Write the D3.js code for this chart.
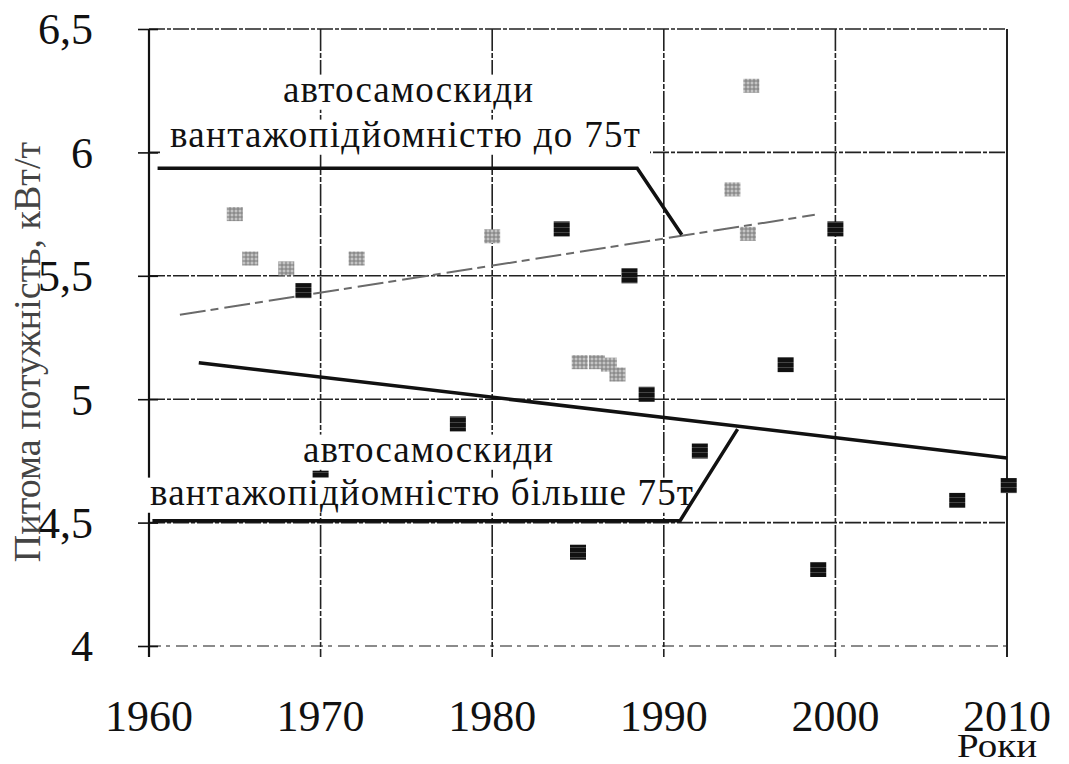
<!DOCTYPE html>
<html>
<head>
<meta charset="utf-8">
<script src="https://cdn.jsdelivr.net/npm/d3@7"></script>
<style>
  body { margin: 0; background: #fff; }
  svg text { font-family: "Liberation Serif", "Times New Roman", serif !important; }
</style>
</head>
<body>
<div id="chart-wrapper"></div>
<script>
// data
const yearTicks = [1960, 1970, 1980, 1990, 2000, 2010];
const powerTicks = [4, 4.5, 5, 5.5, 6, 6.5];

const grayYears  = [1965.0, 1965.9, 1968.0, 1972.1, 1980.0, 1994.0, 1994.9, 1995.1, 1985.1, 1986.1, 1986.8, 1987.3];
const grayValues = [5.75, 5.57, 5.53, 5.57, 5.66, 5.85, 5.67, 6.27, 5.15, 5.15, 5.14, 5.10];

const blackYears  = [1969.0, 1984.05, 1988.0, 2000.0, 1978.0, 1970.0, 1985.0, 1989.0, 1992.1, 1997.1, 1999.0, 2007.1, 2010.1];
const blackValues = [5.44, 5.69, 5.50, 5.69, 4.90, 4.68, 4.38, 5.02, 4.79, 5.14, 4.31, 4.59, 4.65];

const upperLimitYears  = [1960.5, 1988.45, 1991.05];
const upperLimitValues = [5.936, 5.936, 5.666];
const lowerLimitYears  = [1960.2, 1990.95, 1994.3];
const lowerLimitValues = [4.508, 4.508, 4.879];

const trendYears  = [1962.9, 2010];
const trendValues = [5.148, 4.762];
const dashedTrendYears  = [1961.8, 1998.8];
const dashedTrendValues = [5.342, 5.747];

const W = 1069, H = 764;
const FONT = "'Liberation Serif', 'Times New Roman', serif";
const svg = d3.select("#chart-wrapper").append("svg")
    .attr("width", W).attr("height", H)
    .style("background", "#fff");

const x = d3.scaleLinear().domain([1960, 2010]).range([149, 1007]);
const y = d3.scaleLinear().domain([4, 6.5]).range([646, 29]);

// patterns for the scanned-looking markers
const defs = svg.append("defs");
const pg = defs.append("pattern").attr("id", "grayHatch")
    .attr("width", 4).attr("height", 4).attr("patternUnits", "userSpaceOnUse");
pg.append("rect").attr("width", 4).attr("height", 4).attr("fill", "#c4c4c4");
pg.append("path").attr("d", "M0,1H4M2,0V4").attr("stroke", "#7a7a7a").attr("stroke-width", 1);
const pb = defs.append("pattern").attr("id", "blackHatch")
    .attr("width", 5).attr("height", 5).attr("patternUnits", "userSpaceOnUse");
pb.append("rect").attr("width", 5).attr("height", 5).attr("fill", "#111");
pb.append("path").attr("d", "M0,2.5H5").attr("stroke", "#444").attr("stroke-width", 1);

// grid
const grid = svg.append("g");
grid.selectAll("line.h").data(powerTicks).join("line")
    .attr("class", "h")
    .attr("x1", x(1960)).attr("x2", x(2010))
    .attr("y1", d => y(d)).attr("y2", d => y(d))
    .attr("stroke", d => d === 4 ? "#666" : "#222")
    .attr("stroke-width", 1.6)
    .attr("stroke-dasharray", d => d === 4 ? "12,5,4,6" : "16,2,4,2");
grid.selectAll("line.v").data(yearTicks.slice(1)).join("line")
    .attr("class", "v")
    .attr("x1", d => x(d)).attr("x2", d => x(d))
    .attr("y1", y(6.5)).attr("y2", y(4) + 11)
    .attr("stroke", "#222")
    .attr("stroke-width", d => d === 2010 ? 2 : 1.6)
    .attr("stroke-dasharray", d => d === 2010 ? null : "22,2,5,2");

// y axis
const yAxis = svg.append("g")
    .attr("transform", `translate(${x(1960)},0)`)
    .call(d3.axisLeft(y).tickValues(powerTicks).tickSize(10).tickPadding(46)
        .tickFormat(d => String(d).replace(".", ",")))
    .attr("font-family", FONT).attr("font-size", 44);
yAxis.select(".domain").attr("d", `M0,${y(6.5)}V${y(4) + 11}`)
    .attr("stroke", "#111").attr("stroke-width", 2.2);
yAxis.selectAll(".tick line").attr("x1", 9).attr("x2", -11)
    .attr("stroke", "#111").attr("stroke-width", 1.6);
yAxis.selectAll(".tick text")
    .attr("font-size", 44).attr("fill", "#111").attr("dy", "0.34em")
    .attr("font-family", FONT);

// x tick labels
svg.append("g").selectAll("text").data(yearTicks).join("text")
    .attr("x", d => x(d) - 44).attr("y", 731)
    .attr("font-family", FONT).attr("font-size", 45)
    .attr("textLength", 88).attr("lengthAdjust", "spacingAndGlyphs")
    .attr("fill", "#111")
    .text(d => d);

svg.append("text").attr("x", 957).attr("y", 757)
    .attr("font-family", FONT).attr("font-size", 33).attr("fill", "#111")
    .attr("textLength", 80).attr("lengthAdjust", "spacingAndGlyphs")
    .text("Роки");

svg.append("text")
    .attr("transform", `translate(40,352) rotate(-90)`)
    .attr("text-anchor", "middle")
    .attr("font-family", FONT).attr("font-size", 38).attr("fill", "#444")
    .text("Питома потужність, кВт/т");

// trend lines
const line = d3.line().x(d => x(d[0])).y(d => y(d[1]));
svg.append("path")
    .attr("d", line(d3.zip(dashedTrendYears, dashedTrendValues)))
    .attr("fill", "none").attr("stroke", "#6a6a6a").attr("stroke-width", 2)
    .attr("stroke-dasharray", "26,5,8,6");
svg.append("path")
    .attr("d", line(d3.zip(trendYears, trendValues)))
    .attr("fill", "none").attr("stroke", "#111").attr("stroke-width", 3.5);

// markers
const grayPts = d3.zip(grayYears, grayValues);
svg.append("g").selectAll("rect").data(grayPts).join("rect")
    .attr("x", d => x(d[0]) - 8).attr("y", d => y(d[1]) - 7)
    .attr("width", 16).attr("height", 14)
    .attr("fill", "url(#grayHatch)");
const blackPts = d3.zip(blackYears, blackValues);
svg.append("g").selectAll("rect").data(blackPts).join("rect")
    .attr("x", d => x(d[0]) - 8).attr("y", d => y(d[1]) - 7.5)
    .attr("width", 16).attr("height", 15)
    .attr("fill", "url(#blackHatch)");

// annotations with white boxes behind them
const notes = [
    { text: "автосамоскиди", x: 283, y: 102, len: 250 },
    { text: "вантажопідйомністю до 75т", x: 170, y: 147, len: 470 },
    { text: "автосамоскиди", x: 303, y: 462, len: 250 },
    { text: "вантажопідйомністю більше 75т", x: 150, y: 505, len: 543 }
];
const fs = 37;
const noteG = svg.append("g");
noteG.selectAll("rect").data(notes).join("rect")
    .attr("x", d => d.x - 10).attr("y", d => d.y - fs * 0.74)
    .attr("width", d => d.len + 20).attr("height", fs * 0.95)
    .attr("fill", "#fff");
noteG.selectAll("text").data(notes).join("text")
    .attr("x", d => d.x).attr("y", d => d.y)
    .attr("font-family", FONT).attr("font-size", fs).attr("fill", "#111")
    .attr("textLength", d => d.len).attr("lengthAdjust", "spacing")
    .text(d => d.text);

// envelope lines
svg.append("path")
    .attr("d", line(d3.zip(upperLimitYears, upperLimitValues)))
    .attr("fill", "none").attr("stroke", "#111").attr("stroke-width", 3.5);
svg.append("path")
    .attr("d", line(d3.zip(lowerLimitYears, lowerLimitValues)))
    .attr("fill", "none").attr("stroke", "#111").attr("stroke-width", 3.5);
</script>
</body>
</html>
